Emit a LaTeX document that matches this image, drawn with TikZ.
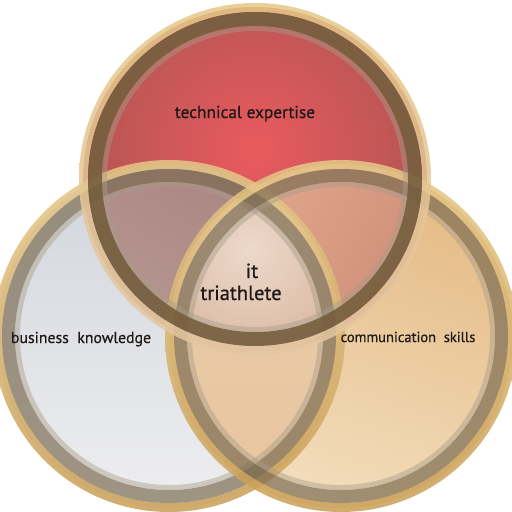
\documentclass[tikz,border=0pt]{standalone}
\usepackage{fontspec}
\setmainfont{PT Sans}
\newfontfamily\lblfont{PT Sans}[FakeBold=0.6]
\definecolor{bizA}{HTML}{D1D5DD}
\definecolor{bizB}{HTML}{EEEEEF}
\definecolor{comA}{HTML}{E4BA84}
\definecolor{comB}{HTML}{F3DEBE}
\definecolor{botA}{HTML}{EDCFAE}
\definecolor{botB}{HTML}{E6C49E}
\definecolor{techIn}{HTML}{EA5A5E}
\definecolor{techOut}{HTML}{A25450}
\definecolor{tlA}{HTML}{AA8682}
\definecolor{tlB}{HTML}{C3A59E}
\definecolor{trA}{HTML}{E2AA90}
\definecolor{trB}{HTML}{C27C68}
\definecolor{midIn}{HTML}{EDD8CA}
\definecolor{midOut}{HTML}{D9B9A3}
\definecolor{goldA}{HTML}{E6C888}
\definecolor{goldB}{HTML}{C99E55}
\definecolor{goldFade}{HTML}{E4C6A2}
\definecolor{bandTop}{HTML}{76603F}
\definecolor{bandSide}{HTML}{7A6A50}
\definecolor{innerBand}{HTML}{A89C88}
\definecolor{ink}{HTML}{1E1816}
\begin{document}
\begin{tikzpicture}[x=1pt,y=-1pt,
  lbl/.style={text=ink, inner sep=0pt, anchor=base},
  goldrim/.style={even odd rule, top color=goldA, bottom color=goldB, fill opacity=0.85},
  sideband/.style={even odd rule, fill=bandSide, fill opacity=0.68},
  topband/.style={even odd rule, fill=bandTop, fill opacity=0.92},
  lightband/.style={even odd rule, fill=innerBand, fill opacity=0.45}]
\useasboundingbox (0,0) rectangle (512,512);
\fill[white] (0,0) rectangle (512,512);
\coordinate (T) at (255,179);
\coordinate (L) at (169,336);
\coordinate (R) at (341,336);
\def\fr{172pt}
% base fills of the three sets
\shade[top color=bizA, bottom color=bizB] (L) circle[radius=\fr];
\shade[top color=comA, bottom color=comB, shading angle=-20] (R) circle[radius=\fr];
\begin{scope}
  \clip (L) circle[radius=\fr];
  \shade[top color=botA, bottom color=botB] (R) circle[radius=\fr];
\end{scope}
\begin{scope}
  \clip (T) circle[radius=\fr];
  \shade[inner color=techIn, outer color=techOut] (255,150) circle[radius=230pt];
\end{scope}
% pairwise overlaps with the top set
\begin{scope}
  \clip (T) circle[radius=\fr];
  \shade[top color=tlA, bottom color=tlB, shading angle=-30] (L) circle[radius=\fr];
\end{scope}
\begin{scope}
  \clip (T) circle[radius=\fr];
  \shade[left color=trA, right color=trB, shading angle=60] (R) circle[radius=\fr];
\end{scope}
% triple overlap
\begin{scope}
  \clip (T) circle[radius=\fr];
  \clip (L) circle[radius=\fr];
  \clip (R) circle[radius=\fr];
  \shade[inner color=midIn, outer color=midOut] (250,250) circle[radius=110pt];
\end{scope}
% rings of the two lower sets
\foreach \c in {L,R} {
  \shade[goldrim] (\c) circle[radius=176pt] (\c) circle[radius=167pt];
  \fill[sideband] (\c) circle[radius=167pt] (\c) circle[radius=154pt];
  \fill[lightband] (\c) circle[radius=154pt] (\c) circle[radius=149pt];
}
% ring of the top set
\shade[even odd rule, top color=goldA, bottom color=goldFade, fill opacity=0.85]
  (T) circle[radius=176pt] (T) circle[radius=167pt];
\fill[topband] (T) circle[radius=167pt] (T) circle[radius=153pt];
\fill[lightband] (T) circle[radius=153pt] (T) circle[radius=148pt];
% labels
\node[lbl, font=\lblfont\fontsize{17.3}{19}\selectfont] (tech) at (245,118) {technical expertise};
\node[lbl, font=\lblfont\fontsize{20.5}{22}\selectfont] (it) at (252,278) {it};
\node[lbl, font=\lblfont\fontsize{20.5}{22}\selectfont] (tri) at (241,300) {triathlete};
\node[lbl, font=\lblfont\fontsize{15.8}{17}\selectfont] (biz) at (81,343) {business\ \ knowledge};
\node[lbl, font=\lblfont\fontsize{14.5}{16}\selectfont] (com) at (408,342) {communication\ \ skills};
\end{tikzpicture}
\end{document}
